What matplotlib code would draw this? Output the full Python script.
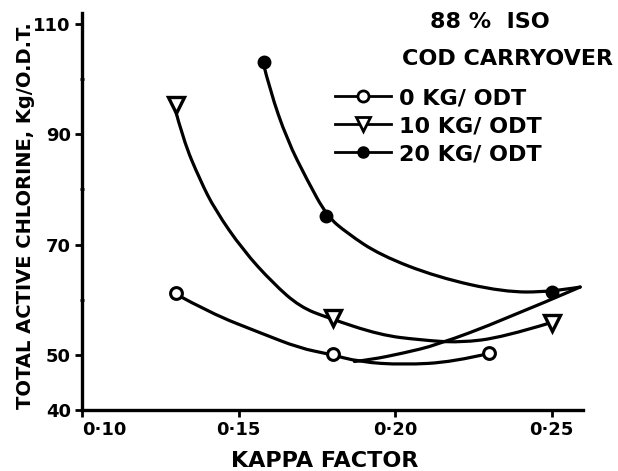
import matplotlib
matplotlib.use("Agg")
import matplotlib.pyplot as plt
from matplotlib.lines import Line2D
from matplotlib.path import Path
from matplotlib.patches import PathPatch

# ==========================================
# Data
# ==========================================

# measured points (markers)
kappa_0 = [0.13, 0.18, 0.23]
chlorine_0 = [61.2, 50.2, 50.3]

kappa_10 = [0.13, 0.18, 0.25]
chlorine_10 = [95.3, 56.7, 55.8]

kappa_20 = [0.158, 0.178, 0.25]
chlorine_20 = [103.1, 75.2, 61.4]

# hand drawn curves
curve_0_x = [0.1294, 0.1409, 0.1569, 0.1696, 0.1786, 0.1888, 0.2025, 0.2185, 0.2303]
curve_0_y = [61.2, 57.6, 54.0, 51.2, 50.2, 48.7, 48.2, 48.7, 50.3]

curve_0b_x = [0.1870, 0.1920, 0.2025, 0.2134, 0.2345, 0.2591]
curve_0b_y = [48.8, 49.1, 50.3, 51.8, 56.3, 62.3]

curve_10_x = [0.1294, 0.1323, 0.1377, 0.1425, 0.1514, 0.1610, 0.1696, 0.1786,
              0.1952, 0.2080, 0.2207, 0.2345, 0.2495]
curve_10_y = [95.3, 89.0, 81.7, 76.3, 69.0, 63.0, 58.7, 56.7,
              53.6, 52.7, 52.2, 53.2, 55.8]

curve_20_x = [0.1578, 0.1600, 0.1655, 0.1719, 0.1782, 0.1846, 0.1952, 0.2134,
              0.2345, 0.2495, 0.2591]
curve_20_y = [103.1, 98.0, 89.0, 81.7, 75.2, 72.1, 68.1, 64.1,
              61.4, 61.4, 62.3]

x_ticks = [0.10, 0.15, 0.20, 0.25]
x_tick_labels = ["0·10", "0·15", "0·20", "0·25"]
y_ticks = [40, 50, 70, 90, 110]
y_minor_ticks = [60, 80, 100]

legend_labels = ["0 KG/ ODT", "10 KG/ ODT", "20 KG/ ODT"]


# draw a traced curve as a smooth chain of quadratic Bezier pieces
def draw_curve(ax, xs, ys, lw):
    pts = list(zip(xs, ys))
    verts = [pts[0]]
    codes = [Path.MOVETO]
    for i in range(1, len(pts) - 1):
        mid = ((pts[i][0] + pts[i + 1][0]) / 2, (pts[i][1] + pts[i + 1][1]) / 2)
        if i == len(pts) - 2:
            mid = pts[-1]
        verts += [pts[i], mid]
        codes += [Path.CURVE3, Path.CURVE3]
    if len(pts) == 2:
        verts.append(pts[1])
        codes.append(Path.LINETO)
    ax.add_patch(PathPatch(Path(verts, codes), fill=False, edgecolor="black",
                           lw=lw, capstyle="round", joinstyle="round"))


# ==========================================
# Plot
# ==========================================

plt.rcParams["font.family"] = ["DejaVu Sans"]
plt.rcParams["font.weight"] = "bold"

fig = plt.figure(figsize=(6.18, 4.71), dpi=100)
ax = fig.add_axes([82 / 618, 1 - 410 / 471, (583 - 82) / 618, (410 - 13) / 471])

lw = 2.3
draw_curve(ax, curve_0_x, curve_0_y, lw)
draw_curve(ax, curve_0b_x, curve_0b_y, lw)
draw_curve(ax, curve_10_x, curve_10_y, lw)
draw_curve(ax, curve_20_x, curve_20_y, lw)

ax.plot(kappa_0, chlorine_0, "o", ms=8.5, mfc="white", mec="black", mew=2.2)
ax.plot(kappa_10, chlorine_10, "v", ms=11, mfc="white", mec="black", mew=2.4)
ax.plot(kappa_20, chlorine_20, "o", ms=9, mfc="black", mec="black")

ax.set_xlim(0.10, 0.26)
ax.set_ylim(40, 112)

for side in ["top", "right"]:
    ax.spines[side].set_visible(False)
for side in ["left", "bottom"]:
    ax.spines[side].set_linewidth(2.4)

ax.set_xticks(x_ticks)
ax.set_xticklabels(x_tick_labels, fontsize=13, fontweight="bold")
ax.get_xticklabels()[0].set_ha("left")
ax.set_yticks(y_ticks)
ax.set_yticklabels([str(v) for v in y_ticks], fontsize=13, fontweight="bold")
ax.set_yticks(y_minor_ticks, minor=True)
ax.tick_params(axis="both", which="major", length=5, width=2, direction="out", pad=3)
ax.tick_params(axis="y", which="minor", length=3, width=2, direction="inout")

fig.text(26 / 618, 1 - 216 / 471, "TOTAL ACTIVE CHLORINE, Kg/O.D.T.",
         rotation=90, ha="center", va="center", fontsize=14, fontweight="bold")
fig.text(325 / 618, 1 - 461 / 471, "KAPPA FACTOR",
         ha="center", va="center", fontsize=16, fontweight="bold")

fig.text(490 / 618, 1 - 22 / 471, "88 %  ISO",
         ha="center", va="center", fontsize=16, fontweight="bold")
fig.text(508 / 618, 1 - 59 / 471, "COD CARRYOVER",
         ha="center", va="center", fontsize=16, fontweight="bold")

handles = [
    Line2D([], [], color="black", lw=2, marker="o", ms=8, mfc="white", mec="black", mew=2),
    Line2D([], [], color="black", lw=2, marker="v", ms=10, mfc="white", mec="black", mew=2),
    Line2D([], [], color="black", lw=2, marker="o", ms=8, mfc="black", mec="black"),
]
ax.legend(handles, legend_labels, loc="upper left", bbox_to_anchor=(335 / 618, 1 - 88 / 471),
          bbox_transform=fig.transFigure, frameon=False,
          handlelength=2.5, handletextpad=0.4, labelspacing=0.36, borderpad=0,
          borderaxespad=0, prop={"weight": "bold", "size": 16})

fig.savefig("out.png", dpi=100)
